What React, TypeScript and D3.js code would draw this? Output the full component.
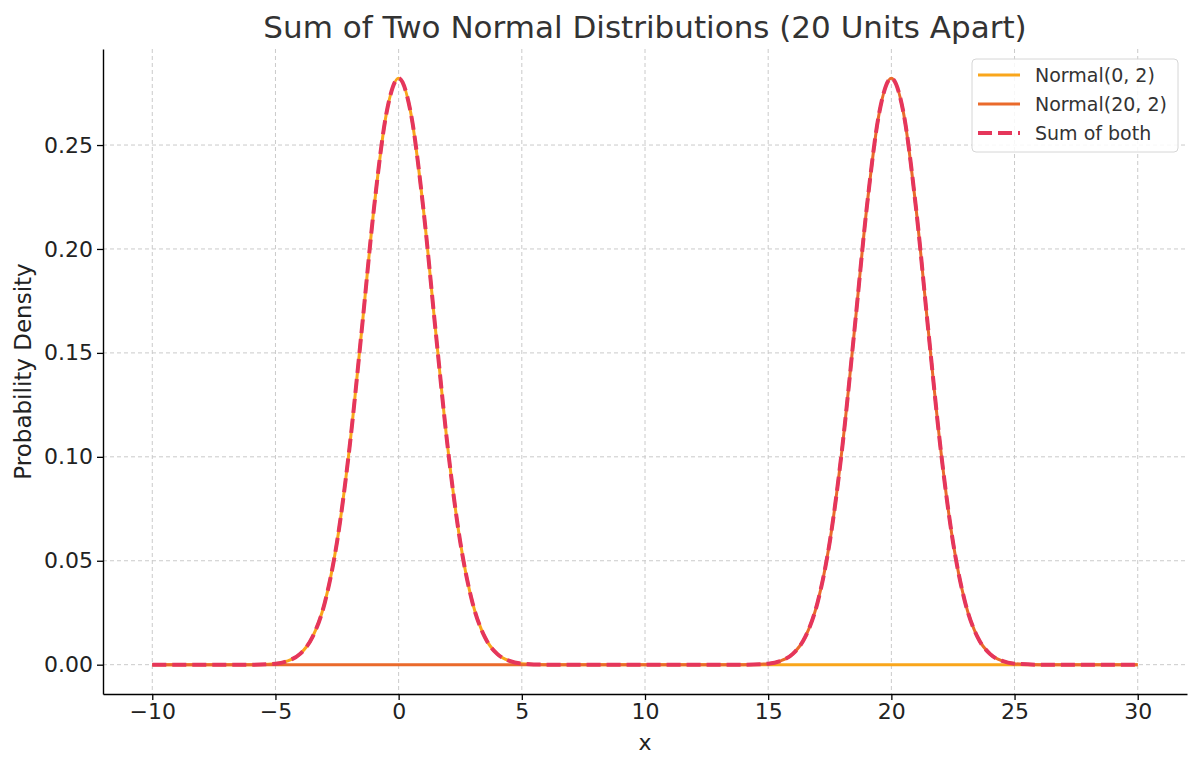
import { useEffect, useRef } from "react";
import * as d3 from "d3";

const WIDTH = 1200;
const HEIGHT = 769;
const MARGIN = { top: 49, right: 13, bottom: 75, left: 103 };

const TITLE = "Sum of Two Normal Distributions (20 Units Apart)";
const X_LABEL = "x";
const Y_LABEL = "Probability Density";

const X_TICKS = [-10, -5, 0, 5, 10, 15, 20, 25, 30];
const Y_TICKS = [0, 0.05, 0.1, 0.15, 0.2, 0.25];

// densities
const N0_X = [-10, -6, -5, -4.5, -4, -3.5, -3, -2.5, -2, -1.5, -1, -0.5, 0, 0.5, 1, 1.5, 2, 2.5, 3, 3.5, 4, 4.5, 5, 6, 30];
const N0_Y = [0, 0, 0.0005, 0.0018, 0.0052, 0.0132, 0.0297, 0.0591, 0.1038, 0.1607, 0.2197, 0.265, 0.2821, 0.265, 0.2197, 0.1607, 0.1038, 0.0591, 0.0297, 0.0132, 0.0052, 0.0018, 0.0005, 0, 0];

const N20_X = [-10, 14, 15, 15.5, 16, 16.5, 17, 17.5, 18, 18.5, 19, 19.5, 20, 20.5, 21, 21.5, 22, 22.5, 23, 23.5, 24, 24.5, 25, 26, 30];
const N20_Y = [0, 0, 0.0005, 0.0018, 0.0052, 0.0132, 0.0297, 0.0591, 0.1038, 0.1607, 0.2197, 0.265, 0.2821, 0.265, 0.2197, 0.1607, 0.1038, 0.0591, 0.0297, 0.0132, 0.0052, 0.0018, 0.0005, 0, 0];

const SUM_X = [
  -10, -6, -5, -4.5, -4, -3.5, -3, -2.5, -2, -1.5, -1, -0.5, 0, 0.5, 1, 1.5, 2, 2.5, 3, 3.5, 4, 4.5, 5, 6,
  14, 15, 15.5, 16, 16.5, 17, 17.5, 18, 18.5, 19, 19.5, 20, 20.5, 21, 21.5, 22, 22.5, 23, 23.5, 24, 24.5, 25, 26, 30,
];
const SUM_Y = [
  0, 0, 0.0005, 0.0018, 0.0052, 0.0132, 0.0297, 0.0591, 0.1038, 0.1607, 0.2197, 0.265, 0.2821, 0.265, 0.2197, 0.1607, 0.1038, 0.0591, 0.0297, 0.0132, 0.0052, 0.0018, 0.0005, 0,
  0, 0.0005, 0.0018, 0.0052, 0.0132, 0.0297, 0.0591, 0.1038, 0.1607, 0.2197, 0.265, 0.2821, 0.265, 0.2197, 0.1607, 0.1038, 0.0591, 0.0297, 0.0132, 0.0052, 0.0018, 0.0005, 0, 0,
];

const SERIES = [
  { name: "Normal(0, 2)", xs: N0_X, ys: N0_Y, color: "#f9a61b", width: 3, dash: "" },
  { name: "Normal(20, 2)", xs: N20_X, ys: N20_Y, color: "#ea6a2b", width: 3, dash: "" },
  { name: "Sum of both", xs: SUM_X, ys: SUM_Y, color: "#e5365b", width: 4, dash: "14 6" },
];

const FONT = "DejaVu Sans, sans-serif";

export default function App() {
  const xAxisRef = useRef<SVGGElement>(null);
  const yAxisRef = useRef<SVGGElement>(null);

  const innerW = WIDTH - MARGIN.left - MARGIN.right;
  const innerH = HEIGHT - MARGIN.top - MARGIN.bottom;

  // matplotlib-style 5% margins
  const xExt = d3.extent(SERIES.flatMap((s) => s.xs)) as [number, number];
  const yExt = d3.extent(SERIES.flatMap((s) => s.ys)) as [number, number];
  const xPad = (xExt[1] - xExt[0]) * 0.05;
  const yPad = (yExt[1] - yExt[0]) * 0.05;

  const x = d3.scaleLinear().domain([xExt[0] - xPad, xExt[1] + xPad]).range([0, innerW]);
  const y = d3.scaleLinear().domain([yExt[0] - yPad, yExt[1] + yPad]).range([innerH, 0]);

  const line = d3
    .line<[number, number]>()
    .x((d) => x(d[0]))
    .y((d) => y(d[1]))
    .curve(d3.curveMonotoneX);

  useEffect(() => {
    const gx = d3.select(xAxisRef.current!);
    gx.selectAll("*").remove();
    gx.call(
      d3
        .axisBottom(x)
        .tickValues(X_TICKS)
        .tickSize(6)
        .tickSizeOuter(0)
        .tickPadding(3)
        .tickFormat(d3.format("d") as any)
    );

    const gy = d3.select(yAxisRef.current!);
    gy.selectAll("*").remove();
    gy.call(
      d3
        .axisLeft(y)
        .tickValues(Y_TICKS)
        .tickSize(6)
        .tickSizeOuter(0)
        .tickPadding(4)
        .tickFormat(d3.format(".2f") as any)
    );

    [gx, gy].forEach((g) => {
      g.attr("font-family", FONT).attr("font-size", 22);
      g.select(".domain").attr("stroke", "#000").attr("stroke-width", 1.4);
      g.selectAll(".tick line").attr("stroke", "#000").attr("stroke-width", 1.3);
      g.selectAll(".tick text").attr("fill", "#222");
    });
  }, []);

  return (
    <svg
      width={WIDTH}
      height={HEIGHT}
      style={{ position: "absolute", left: 0, top: 0, background: "#fff" }}
    >
      <rect width={WIDTH} height={HEIGHT} fill="#fff" />
      <text
        x={MARGIN.left + innerW / 2}
        y={38}
        textAnchor="middle"
        fontFamily={FONT}
        fontSize={31}
        fill="#333"
      >
        {TITLE}
      </text>

      <g transform={`translate(${MARGIN.left},${MARGIN.top})`}>
        {/* grid */}
        {X_TICKS.map((t) => (
          <line
            key={`gx${t}`}
            x1={x(t)}
            x2={x(t)}
            y1={0}
            y2={innerH}
            stroke="#cacaca"
            strokeWidth={1}
            strokeDasharray="4 3"
          />
        ))}
        {Y_TICKS.map((t) => (
          <line
            key={`gy${t}`}
            x1={0}
            x2={innerW}
            y1={y(t)}
            y2={y(t)}
            stroke="#cacaca"
            strokeWidth={1}
            strokeDasharray="4 3"
          />
        ))}

        {SERIES.map((s) => (
          <path
            key={s.name}
            d={line(s.xs.map((v, i) => [v, s.ys[i]] as [number, number])) ?? ""}
            fill="none"
            stroke={s.color}
            strokeWidth={s.width}
            strokeDasharray={s.dash || undefined}
            strokeLinejoin="round"
          />
        ))}

        <g ref={xAxisRef} transform={`translate(0,${innerH})`} />
        <g ref={yAxisRef} />

        {/* legend */}
        <g transform={`translate(${innerW - 215},10)`} fontFamily={FONT}>
          <rect
            x={0}
            y={0}
            width={206}
            height={93}
            rx={4}
            fill="#fff"
            fillOpacity={0.85}
            stroke="#d6d6d6"
            strokeWidth={1}
          />
          {SERIES.map((s, i) => (
            <g key={s.name} transform={`translate(0,${16 + i * 29})`}>
              <line
                x1={6}
                x2={48}
                y1={0}
                y2={0}
                stroke={s.color}
                strokeWidth={s.width}
                strokeDasharray={s.dash || undefined}
              />
              <text x={63} y={0} dy="0.35em" fontSize={19} fill="#333">
                {s.name}
              </text>
            </g>
          ))}
        </g>
      </g>

      <text
        x={MARGIN.left + innerW / 2}
        y={750}
        textAnchor="middle"
        fontFamily={FONT}
        fontSize={22}
        fill="#222"
      >
        {X_LABEL}
      </text>
      <text
        transform={`translate(31,${MARGIN.top + innerH / 2}) rotate(-90)`}
        textAnchor="middle"
        fontFamily={FONT}
        fontSize={23}
        fill="#222"
      >
        {Y_LABEL}
      </text>
    </svg>
  );
}
